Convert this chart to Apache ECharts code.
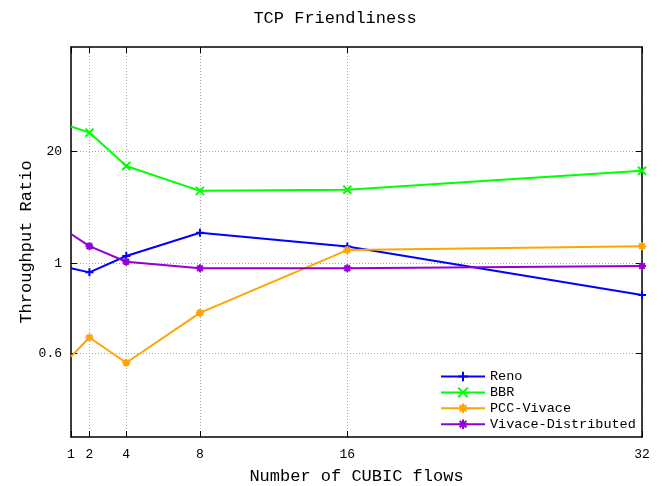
<!DOCTYPE html>
<html><head><meta charset="utf-8">
<script src="https://cdn.jsdelivr.net/npm/echarts@6/dist/echarts.min.js"></script>
<style>html,body{margin:0;padding:0;background:#fff}#chart{width:670px;height:486px}</style>
</head><body><div id="chart"></div>
<script>
// Number of competing CUBIC flows
const flows = [1, 2, 4, 8, 16, 32];
// Throughput ratio per protocol
const reno = [0.974, 0.952, 1.23, 2.29, 1.58, 0.837];
const bbr = [39.0, 33.2, 13.6, 7.0, 7.2, 12.0];
const pccVivace = [0.589, 0.657, 0.569, 0.756, 1.44, 1.60];
const vivaceDistributed = [2.21, 1.60, 1.055, 0.974, 0.974, 0.987];
// Tick labels
const ratioTicks = [0.6, 1, 20];
const flowTicks = [1, 2, 4, 8, 16, 32];

// Ratio scale: logarithmic above 1, logarithmic but stretched below 1
const LOW_STRETCH = 4.69;
const toAxis = v => v >= 1 ? Math.log10(v) : LOW_STRETCH * Math.log10(v);
const ratioLabel = u => {
  const t = ratioTicks.find(r => Math.abs(toAxis(r) - u) < 1e-6);
  return t === undefined ? '' : String(t);
};

const FONT = 'Liberation Mono';
const gridLine = { show: true, lineStyle: { color: '#a8a8a8', type: [1, 2], width: 1 } };
const frameLine = { show: true, onZero: false, lineStyle: { color: '#000', width: 1.5 } };
const innerTick = (values) => ({ show: true, inside: true, length: 6, customValues: values, lineStyle: { color: '#000', width: 1 } });

const SYMBOLS = {
  plus: 'path://M0,5L10,5M5,0L5,10',
  cross: 'path://M0,0L10,10M10,0L0,10',
  star: 'path://M0,5L10,5M5,0L5,10M1.5,1.5L8.5,8.5M8.5,1.5L1.5,8.5'
};

function makeSeries(name, values, color, symbol) {
  return {
    name, type: 'line',
    // the first point sits on the frame and carries no marker
    data: flows.map((f, i) => i === 0
      ? { value: [f, toAxis(values[i])], symbol: 'none' }
      : [f, toAxis(values[i])]),
    symbol: SYMBOLS[symbol],
    symbolSize: 8,
    lineStyle: { color, width: 2 },
    itemStyle: { color, borderColor: color, borderWidth: 2 },
    emphasis: { disabled: true },
    xAxisIndex: 0, yAxisIndex: 0, z: 3
  };
}

const yMin = -2.01, yMax = 2.514;
const yTickPos = ratioTicks.map(toAxis);

const chart = echarts.init(document.getElementById('chart'), null, { renderer: 'canvas' });
chart.setOption({
  animation: false,
  backgroundColor: '#fff',
  textStyle: { fontFamily: FONT, color: '#000' },
  title: {
    text: 'TCP Friendliness', left: 'center', top: 5,
    textStyle: { fontFamily: FONT, fontSize: 17, fontWeight: 'normal', color: '#000' }
  },
  grid: { left: 71, right: 28, top: 47, bottom: 49, containLabel: false, outerBoundsMode: 'none' },
  legend: {
    orient: 'vertical', left: 435, top: 364.5,
    itemWidth: 44, itemHeight: 12, itemGap: 1.9,
    textStyle: { fontFamily: FONT, fontSize: 13.5, color: '#000' },
    data: ['Reno', 'BBR', 'PCC-Vivace', 'Vivace-Distributed']
  },
  xAxis: [{
    type: 'value', position: 'bottom', min: 1, max: 32,
    name: 'Number of CUBIC flows', nameLocation: 'middle', nameGap: 31,
    nameTextStyle: { fontFamily: FONT, fontSize: 17, color: '#000' },
    axisLine: frameLine, axisTick: innerTick(flowTicks),
    axisLabel: { customValues: flowTicks, margin: 11, fontFamily: FONT, fontSize: 13, color: '#000' },
    splitLine: gridLine
  }, {
    type: 'value', position: 'top', min: 1, max: 32,
    axisLine: frameLine, axisTick: innerTick(flowTicks),
    axisLabel: { show: false }, splitLine: { show: false }
  }],
  yAxis: [{
    type: 'value', position: 'left', min: yMin, max: yMax,
    name: 'Throughput Ratio', nameLocation: 'middle', nameGap: 36, nameMoveOverlap: false,
    nameTextStyle: { fontFamily: FONT, fontSize: 17, color: '#000' },
    axisLine: frameLine, axisTick: innerTick(yTickPos),
    axisLabel: { customValues: yTickPos, formatter: ratioLabel, margin: 9, fontFamily: FONT, fontSize: 13, color: '#000' },
    splitLine: gridLine
  }, {
    type: 'value', position: 'right', min: yMin, max: yMax,
    axisLine: frameLine, axisTick: innerTick(yTickPos),
    axisLabel: { show: false }, splitLine: { show: false }
  }],
  series: [
    makeSeries('Reno', reno, '#0000ff', 'plus'),
    makeSeries('BBR', bbr, '#00ff00', 'cross'),
    makeSeries('PCC-Vivace', pccVivace, '#ffa500', 'star'),
    makeSeries('Vivace-Distributed', vivaceDistributed, '#9400d3', 'star')
  ]
});
</script>
</body></html>
